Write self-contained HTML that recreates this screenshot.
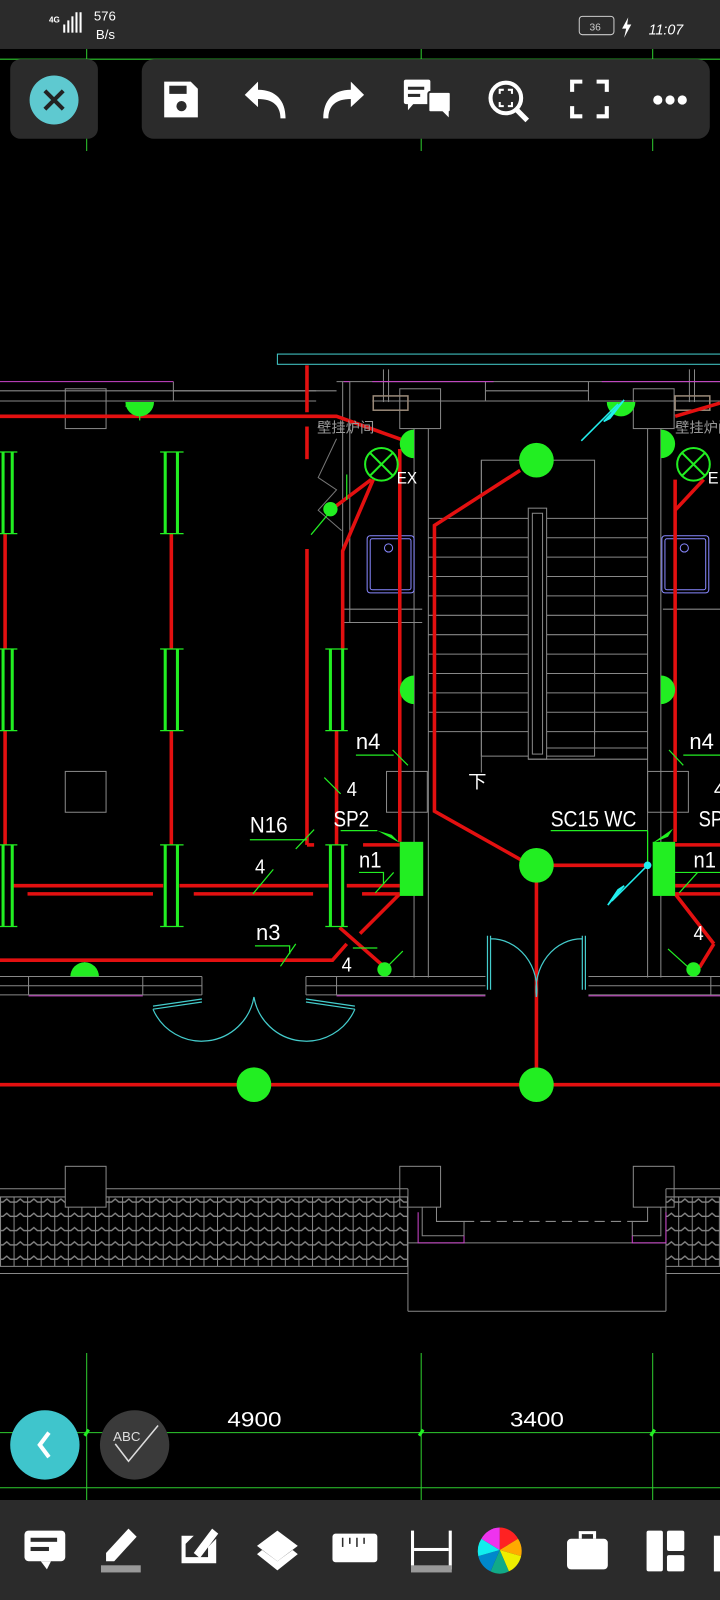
<!DOCTYPE html>
<html><head><meta charset="utf-8"><style>
html,body{margin:0;padding:0;background:#000;width:720px;height:1600px;overflow:hidden}
svg{display:block}
.t{font-family:"Liberation Sans","Noto Sans CJK SC",sans-serif;fill:#fff;font-weight:normal}
</style></head><body>
<svg width="720" height="1600" viewBox="0 0 706 1568" preserveAspectRatio="none" xmlns="http://www.w3.org/2000/svg">
<defs>
<pattern id="tile" x="0" y="1170" width="13.3" height="14" patternUnits="userSpaceOnUse">
<line x1="0.5" y1="0" x2="0.5" y2="14" stroke="#888" stroke-width="1"/>
<path d="M0,8 L3,8 L6.6,5 L10,8 L13.3,8" fill="none" stroke="#888" stroke-width="1.3"/>
</pattern>
</defs>
<rect width="706" height="1568" fill="#000"/>

<g stroke="#2ecc2e" stroke-width="1">
<line x1="0" y1="58" x2="706" y2="58"/>
<line x1="85" y1="48" x2="85" y2="148"/><line x1="413" y1="48" x2="413" y2="148"/><line x1="640" y1="48" x2="640" y2="148"/>
</g>

<rect x="272" y="347" width="440" height="10" fill="none" stroke="#4cc" stroke-width="1"/>

<g stroke="#888" stroke-width="1" fill="none">
<line x1="0" y1="383" x2="330" y2="383"/><line x1="0" y1="393" x2="170" y2="393"/>
<line x1="170" y1="374" x2="170" y2="393"/><line x1="170" y1="383" x2="310" y2="383"/>
<line x1="170" y1="393" x2="310" y2="393"/>
<line x1="330" y1="374" x2="706" y2="374"/><line x1="365" y1="393" x2="706" y2="393"/>
<line x1="476" y1="374" x2="476" y2="393"/><line x1="577" y1="374" x2="577" y2="393"/>
<line x1="476" y1="383" x2="577" y2="383"/>
<line x1="336" y1="374" x2="336" y2="610"/><line x1="343" y1="374" x2="343" y2="610"/>
<line x1="336" y1="597" x2="414" y2="597"/><line x1="336" y1="610" x2="414" y2="610"/>
<line x1="650" y1="597" x2="706" y2="597"/>
<line x1="376" y1="362" x2="376" y2="394"/><line x1="381" y1="362" x2="381" y2="394"/>
<line x1="676" y1="362" x2="676" y2="394"/><line x1="681" y1="362" x2="681" y2="394"/>
<rect x="64" y="381" width="40" height="39"/><rect x="392" y="381" width="40" height="39"/><rect x="621" y="381" width="40" height="39"/>
<line x1="406" y1="420" x2="406" y2="958"/><line x1="420" y1="420" x2="420" y2="958"/>
<line x1="635" y1="420" x2="635" y2="958"/><line x1="648" y1="420" x2="648" y2="958"/>
<rect x="64" y="756" width="40" height="40"/><rect x="379" y="756" width="40" height="40"/><rect x="635" y="756" width="40" height="40"/>
<rect x="472" y="451" width="111" height="290"/>
<line x1="420" y1="508" x2="635" y2="508"/><line x1="420" y1="527" x2="635" y2="527"/>
<line x1="420" y1="546" x2="635" y2="546"/><line x1="420" y1="565" x2="635" y2="565"/>
<line x1="420" y1="584" x2="635" y2="584"/><line x1="420" y1="603" x2="635" y2="603"/>
<line x1="420" y1="622" x2="635" y2="622"/><line x1="420" y1="641" x2="635" y2="641"/>
<line x1="420" y1="660" x2="635" y2="660"/><line x1="420" y1="679" x2="635" y2="679"/>
<line x1="420" y1="698" x2="635" y2="698"/><line x1="420" y1="717" x2="635" y2="717"/>
<line x1="472" y1="451" x2="472" y2="757"/>
<rect x="518" y="498" width="18" height="246" fill="#000"/><rect x="522" y="503" width="10" height="236"/>
<line x1="536" y1="733" x2="635" y2="733"/><line x1="518" y1="744" x2="635" y2="744"/>
<line x1="583" y1="600" x2="583" y2="720"/>
<line x1="0" y1="957" x2="198" y2="957"/><line x1="0" y1="966" x2="198" y2="966"/><line x1="0" y1="975" x2="198" y2="975"/>
<line x1="28" y1="957" x2="28" y2="975"/><line x1="140" y1="957" x2="140" y2="975"/><line x1="198" y1="957" x2="198" y2="975"/>
<line x1="300" y1="957" x2="476" y2="957"/><line x1="300" y1="966" x2="476" y2="966"/><line x1="300" y1="975" x2="476" y2="975"/>
<line x1="300" y1="957" x2="300" y2="975"/><line x1="330" y1="957" x2="330" y2="975"/>
<line x1="577" y1="957" x2="706" y2="957"/><line x1="577" y1="966" x2="706" y2="966"/><line x1="577" y1="975" x2="706" y2="975"/>
<line x1="697" y1="957" x2="697" y2="975"/>
</g>
<g stroke="#c4c" stroke-width="1">
<line x1="0" y1="374" x2="170" y2="374"/><line x1="337" y1="374" x2="343" y2="374"/>
<line x1="365" y1="374" x2="484" y2="374"/><line x1="590" y1="374" x2="706" y2="374"/>
<line x1="28" y1="976" x2="140" y2="976"/><line x1="330" y1="976" x2="476" y2="976"/><line x1="577" y1="976" x2="706" y2="976"/>
</g>

<g fill="none" stroke="#88f" stroke-width="1">
<rect x="360" y="525" width="46" height="56" rx="3"/><rect x="363" y="528" width="40" height="50" rx="2"/>
<circle cx="381" cy="537" r="4"/>
<rect x="649" y="525" width="46" height="56" rx="3"/><rect x="652" y="528" width="40" height="50" rx="2"/>
<circle cx="671" cy="537" r="4"/>
</g>
<g fill="none" stroke="#987" stroke-width="1.5"><rect x="366" y="388" width="34" height="14"/><rect x="662" y="388" width="34" height="14"/></g>
<g stroke="#777" fill="none"><path d="M330,430 L312,468 L330,480 L312,500 L335,520"/></g>

<g stroke="#e31010" stroke-width="3.5" fill="none">
<polyline points="0,408 330,408 400,433"/>
<line x1="301" y1="358" x2="301" y2="404"/><line x1="301" y1="418" x2="301" y2="450"/><line x1="301" y1="538" x2="301" y2="828"/>
<line x1="301" y1="828" x2="308" y2="828"/>
<line x1="5" y1="523" x2="5" y2="636"/><line x1="5" y1="716" x2="5" y2="828"/>
<line x1="168" y1="523" x2="168" y2="636"/><line x1="168" y1="716" x2="168" y2="828"/>
<polyline points="366,470 336,540 336,636"/><line x1="330" y1="716" x2="330" y2="828"/>
<line x1="392" y1="440" x2="392" y2="825"/>
<line x1="12" y1="868" x2="160" y2="868"/><line x1="176" y1="868" x2="322" y2="868"/><line x1="340" y1="868" x2="392" y2="868"/>
<line x1="27" y1="876" x2="150" y2="876"/><line x1="190" y1="876" x2="307" y2="876"/><line x1="355" y1="876" x2="392" y2="876"/>
<line x1="356" y1="828" x2="392" y2="828"/>
<polyline points="0,941 326,941 340,925"/>
<line x1="333" y1="909" x2="375" y2="946"/>
<line x1="392" y1="876" x2="353" y2="915"/>
<line x1="328" y1="497" x2="364" y2="470"/>
<polyline points="510,461 426,515 426,795 515,845"/>
<line x1="526" y1="848" x2="635" y2="848"/>
<line x1="526" y1="848" x2="526" y2="1063"/>
<line x1="0" y1="1063" x2="706" y2="1063"/>
<line x1="662" y1="470" x2="662" y2="825"/>
<line x1="662" y1="828" x2="706" y2="828"/><line x1="662" y1="868" x2="706" y2="868"/><line x1="662" y1="876" x2="706" y2="876"/>
<polyline points="662,500 690,470"/><line x1="662" y1="408" x2="706" y2="395"/>
<line x1="662" y1="876" x2="700" y2="925"/><line x1="700" y1="925" x2="686" y2="948"/>
</g>

<g stroke="#22ee22" stroke-width="3">
<line x1="3" y1="443" x2="3" y2="523"/><line x1="12" y1="443" x2="12" y2="523"/>
<line x1="3" y1="636" x2="3" y2="716"/><line x1="12" y1="636" x2="12" y2="716"/>
<line x1="3" y1="828" x2="3" y2="908"/><line x1="12" y1="828" x2="12" y2="908"/>
<line x1="162" y1="443" x2="162" y2="523"/><line x1="174" y1="443" x2="174" y2="523"/>
<line x1="162" y1="636" x2="162" y2="716"/><line x1="174" y1="636" x2="174" y2="716"/>
<line x1="162" y1="828" x2="162" y2="908"/><line x1="174" y1="828" x2="174" y2="908"/>
<line x1="324" y1="636" x2="324" y2="716"/><line x1="336" y1="636" x2="336" y2="716"/>
<line x1="324" y1="828" x2="324" y2="908"/><line x1="336" y1="828" x2="336" y2="908"/>
</g>
<g stroke="#22ee22" stroke-width="1.2">
<line x1="0" y1="443" x2="17" y2="443"/><line x1="0" y1="523" x2="17" y2="523"/>
<line x1="0" y1="636" x2="17" y2="636"/><line x1="0" y1="716" x2="17" y2="716"/>
<line x1="0" y1="828" x2="17" y2="828"/><line x1="0" y1="908" x2="17" y2="908"/>
<line x1="157" y1="443" x2="180" y2="443"/><line x1="157" y1="523" x2="180" y2="523"/>
<line x1="157" y1="636" x2="180" y2="636"/><line x1="157" y1="716" x2="180" y2="716"/>
<line x1="157" y1="828" x2="180" y2="828"/><line x1="157" y1="908" x2="180" y2="908"/>
<line x1="319" y1="636" x2="341" y2="636"/><line x1="319" y1="716" x2="341" y2="716"/>
<line x1="319" y1="828" x2="341" y2="828"/><line x1="319" y1="908" x2="341" y2="908"/>
<line x1="349" y1="740" x2="386" y2="740"/><line x1="385" y1="735" x2="400" y2="750"/>
<line x1="318" y1="762" x2="334" y2="778"/>
<line x1="245" y1="823" x2="301" y2="823"/><line x1="290" y1="832" x2="308" y2="813"/>
<line x1="334" y1="814" x2="370" y2="814"/>
<polyline points="352,855 376,855 376,866"/><line x1="368" y1="875" x2="386" y2="855"/>
<line x1="248" y1="876" x2="268" y2="852"/>
<polyline points="250,927 284,927 284,935"/><line x1="275" y1="947" x2="290" y2="925"/>
<line x1="346" y1="929" x2="370" y2="929"/>
<line x1="377" y1="950" x2="395" y2="932"/>
<line x1="540" y1="814" x2="635" y2="814"/><line x1="635" y1="814" x2="635" y2="848"/>
<line x1="656" y1="735" x2="670" y2="750"/><line x1="670" y1="740" x2="706" y2="740"/>
<line x1="662" y1="855" x2="706" y2="855"/><line x1="666" y1="875" x2="684" y2="855"/>
<line x1="655" y1="930" x2="675" y2="948"/>
<line x1="305" y1="524" x2="325" y2="500"/><line x1="340" y1="465" x2="340" y2="490"/>
<line x1="123" y1="398" x2="150" y2="398"/><line x1="137" y1="398" x2="137" y2="412"/>
<line x1="83" y1="943" x2="83" y2="952"/>
</g>
<g fill="#22ee22">
<path d="M123,394 A14,14 0 0 0 151,394 Z"/>
<path d="M69,957 A14,14 0 0 1 97,957 Z"/>
<path d="M595,394 A14,14 0 0 0 623,394 Z"/>
<path d="M406,421 A14,14 0 0 0 406,449 Z"/>
<path d="M406,662 A14,14 0 0 0 406,690 Z"/>
<path d="M648,421 A14,14 0 0 1 648,449 Z"/>
<path d="M648,662 A14,14 0 0 1 648,690 Z"/>
<ellipse cx="526" cy="451" rx="17" ry="17"/>
<ellipse cx="526" cy="848" rx="17" ry="17"/>
<ellipse cx="249" cy="1063" rx="17" ry="17"/>
<ellipse cx="526" cy="1063" rx="17" ry="17"/>
<ellipse cx="324" cy="499" rx="7" ry="7"/>
<circle cx="377" cy="950" r="7"/><circle cx="680" cy="950" r="7"/>
<rect x="392" y="825" width="23" height="53"/>
<rect x="640" y="825" width="22" height="53"/>
<path d="M370,814 L392,826 L384,818 Z"/><path d="M640,826 L660,812 L655,820 Z"/>
</g>
<g fill="none" stroke="#22ee22" stroke-width="2">
<circle cx="374" cy="455" r="16"/><line x1="363" y1="444" x2="385" y2="466"/><line x1="385" y1="444" x2="363" y2="466"/>
<circle cx="680" cy="455" r="16"/><line x1="669" y1="444" x2="691" y2="466"/><line x1="691" y1="444" x2="669" y2="466"/>
</g>
<g stroke="#2ee" stroke-width="1.5" fill="#2ee">
<line x1="570" y1="432" x2="606" y2="396"/><path d="M592,413 L612,392 L598,410Z"/>
<line x1="635" y1="848" x2="600" y2="883"/><path d="M596,887 L612,868 L606,872Z"/><circle cx="635" cy="848" r="3"/>
</g>
<g fill="none" stroke="#4cc" stroke-width="1.2">
<path d="M150,986 L198,979 M150,989 L198,982 M150,989 A52,52 0 0 0 249,977"/>
<path d="M300,979 L348,986 M300,982 L348,989 M348,989 A52,52 0 0 1 249,977"/>
<path d="M478,917 L478,970 M481,917 L481,970 M481,920 A45,50 0 0 1 526,977"/>
<path d="M574,917 L574,970 M571,917 L571,970 M571,920 A45,50 0 0 0 526,977"/>
</g>

<g class="t">
<text x="311" y="424" font-size="14" style="fill:#999">壁挂炉间</text>
<text x="662" y="424" font-size="14" style="fill:#999">壁挂炉间</text>
<text x="389" y="474" font-size="16" textLength="20" lengthAdjust="spacingAndGlyphs">EX</text>
<text x="694" y="474" font-size="16">E</text>
<text x="349" y="734" font-size="22" textLength="24" lengthAdjust="spacingAndGlyphs">n4</text>
<text x="340" y="780" font-size="20" textLength="10" lengthAdjust="spacingAndGlyphs">4</text>
<text x="245" y="816" font-size="22" textLength="37" lengthAdjust="spacingAndGlyphs">N16</text>
<text x="327" y="810" font-size="22" textLength="35" lengthAdjust="spacingAndGlyphs">SP2</text>
<text x="352" y="850" font-size="22" textLength="22" lengthAdjust="spacingAndGlyphs">n1</text>
<text x="250" y="856" font-size="20" textLength="10" lengthAdjust="spacingAndGlyphs">4</text>
<text x="251" y="921" font-size="22" textLength="24" lengthAdjust="spacingAndGlyphs">n3</text>
<text x="335" y="952" font-size="20" textLength="10" lengthAdjust="spacingAndGlyphs">4</text>
<text x="459" y="772" font-size="18">下</text>
<text x="540" y="810" font-size="22" textLength="84" lengthAdjust="spacingAndGlyphs">SC15 WC</text>
<text x="676" y="734" font-size="22" textLength="24" lengthAdjust="spacingAndGlyphs">n4</text>
<text x="700" y="780" font-size="20">4</text>
<text x="685" y="810" font-size="22" textLength="24" lengthAdjust="spacingAndGlyphs">SP</text>
<text x="680" y="850" font-size="22" textLength="22" lengthAdjust="spacingAndGlyphs">n1</text>
<text x="680" y="921" font-size="20" textLength="10" lengthAdjust="spacingAndGlyphs">4</text>
<text x="223" y="1398" font-size="21" textLength="53" lengthAdjust="spacingAndGlyphs">4900</text>
<text x="500" y="1398" font-size="21" textLength="53" lengthAdjust="spacingAndGlyphs">3400</text>
</g>

<rect x="0" y="1173" width="400" height="68" fill="url(#tile)"/>
<rect x="653" y="1173" width="53" height="68" fill="url(#tile)"/>
<g stroke="#888" stroke-width="1" fill="none">
<line x1="0" y1="1165" x2="400" y2="1165"/><line x1="0" y1="1173" x2="400" y2="1173"/>
<line x1="0" y1="1241" x2="400" y2="1241"/><line x1="0" y1="1248" x2="400" y2="1248"/>
<line x1="653" y1="1165" x2="706" y2="1165"/><line x1="653" y1="1173" x2="706" y2="1173"/>
<line x1="653" y1="1241" x2="706" y2="1241"/><line x1="653" y1="1248" x2="706" y2="1248"/>
<rect x="64" y="1143" width="40" height="40" fill="#000"/><rect x="392" y="1143" width="40" height="40"/><rect x="621" y="1143" width="40" height="40"/>
<line x1="400" y1="1165" x2="400" y2="1285"/><line x1="653" y1="1165" x2="653" y2="1285"/><line x1="400" y1="1285" x2="653" y2="1285"/>
<line x1="400" y1="1218" x2="653" y2="1218"/>
<polyline points="414,1183 414,1211 455,1211 455,1197 428,1197 428,1183"/>
<polyline points="648,1183 648,1211 620,1211 620,1197 635,1197 635,1183"/>
<line x1="455" y1="1197" x2="620" y2="1197" stroke-dasharray="10,6"/>
</g>
<g stroke="#c4c" stroke-width="1" fill="none">
<polyline points="410,1188 410,1218 455,1218 455,1211"/><polyline points="653,1188 653,1218 620,1218 620,1211"/>
</g>

<g stroke="#2ecc2e" stroke-width="1">
<line x1="0" y1="1404" x2="706" y2="1404"/><line x1="0" y1="1458" x2="706" y2="1458"/>
<line x1="85" y1="1326" x2="85" y2="1470"/><line x1="413" y1="1326" x2="413" y2="1470"/><line x1="640" y1="1326" x2="640" y2="1470"/>
</g>
<g stroke="#2e2" stroke-width="3"><line x1="83" y1="1407" x2="87" y2="1401"/><line x1="411" y1="1407" x2="415" y2="1401"/><line x1="638" y1="1407" x2="642" y2="1401"/></g>

<rect x="0" y="0" width="706" height="48" fill="#2b2b2b"/>
<g fill="#fff" font-family="Liberation Sans, sans-serif">
<text x="48" y="22" font-size="8" font-weight="bold">4G</text>
<rect x="62" y="24" width="2" height="8"/><rect x="66" y="20" width="2" height="12"/><rect x="70" y="16" width="2" height="16"/><rect x="74" y="12" width="2" height="20"/><rect x="78" y="12" width="2" height="20"/>
<text x="92" y="20" font-size="13">576</text><text x="94" y="38" font-size="13">B/s</text>
<text x="636" y="34" font-size="14" font-style="italic">11:07</text>
</g>
<rect x="568" y="16" width="34" height="18" rx="3" fill="none" stroke="#ccc" stroke-width="1"/>
<text x="578" y="30" font-size="10" fill="#ccc" font-family="Liberation Sans, sans-serif">36</text>
<path d="M616,17 L610,28 L614,28 L612,37 L619,24 L615,24 Z" fill="#fff"/>

<rect x="10" y="58" width="86" height="78" rx="10" fill="#2b2b2b"/>
<circle cx="53" cy="98" r="24" fill="#5ec9d0"/>
<path d="M44,89 L62,107 M62,89 L44,107" stroke="#222" stroke-width="4"/>
<rect x="139" y="58" width="557" height="78" rx="12" fill="#2b2b2b"/>
<g fill="#fff">
<path d="M161,80 h26 l7,7 v28 h-33 z"/>
<rect x="166" y="84" width="17" height="8" fill="#2b2b2b"/><circle cx="178" cy="104" r="5" fill="#2b2b2b"/>
<path d="M240,93 L253,80 L253,88 C270,88 280,98 280,116 L275,116 C275,104 268,97 253,97 L253,105 Z"/>
<path d="M357,93 L344,80 L344,88 C327,88 317,98 317,116 L322,116 C322,104 329,97 344,97 L344,105 Z"/>
<rect x="396" y="78" width="26" height="24" rx="2"/><path d="M400,100 L400,108 L407,100Z"/>
<rect x="420" y="90" width="22" height="20" rx="2" stroke="#2b2b2b" stroke-width="2"/><path d="M440,108 L440,115 L433,108Z"/>
<rect x="400" y="85" width="16" height="3" fill="#2b2b2b"/><rect x="400" y="92" width="12" height="3" fill="#2b2b2b"/>
</g>
<g fill="none" stroke="#fff" stroke-width="4">
<circle cx="496" cy="96" r="15"/><line x1="507" y1="108" x2="517" y2="118" stroke-width="5"/>
<path d="M561,90 v-10 h10 M585,80 h10 v10 M595,104 v10 h-10 M571,114 h-10 v-10"/>
</g>
<path d="M490,92 v-4 h4 M498,88 h4 v4 M502,100 v4 h-4 M494,104 h-4 v-4" fill="none" stroke="#fff" stroke-width="2"/>
<g fill="#fff"><circle cx="645" cy="98" r="4.5"/><circle cx="657" cy="98" r="4.5"/><circle cx="669" cy="98" r="4.5"/></g>

<circle cx="44" cy="1416" r="34" fill="#3fc5cc"/>
<path d="M48,1404 L39,1416 L48,1428" fill="none" stroke="#fff" stroke-width="4"/>
<circle cx="132" cy="1416" r="34" fill="#3a3a3a"/>
<text x="111" y="1412" font-size="13" fill="#ddd" font-family="Liberation Sans, sans-serif">ABC</text>
<path d="M113,1415 L126,1432 L155,1397" fill="none" stroke="#ddd" stroke-width="1.5"/>

<rect x="0" y="1470" width="706" height="98" fill="#2b2b2b"/>
<g fill="#fff">
<rect x="24" y="1500" width="40" height="30" rx="4"/><path d="M40,1530 L46,1538 L50,1530Z"/>
<rect x="30" y="1507" width="26" height="4" fill="#2b2b2b"/><rect x="30" y="1516" width="18" height="4" fill="#2b2b2b"/>
<path d="M104,1530 L104,1522 L126,1498 L134,1506 L112,1530 Z"/>
<rect x="99" y="1534" width="39" height="7" fill="#999"/>
<path d="M178,1505 h12 l-8,8 v13 h22 v-10 l8,-8 v24 h-34 z"/><path d="M190,1522 l18,-24 l6,5 l-18,24 z"/>
<path d="M272,1500 L292,1515 L272,1530 L252,1515 Z"/><path d="M252,1523 L257,1519 L272,1530 L287,1519 L292,1523 L272,1539 Z"/>
<rect x="326" y="1503" width="44" height="28" rx="3"/>
<rect x="403" y="1500" width="3" height="38"/><rect x="440" y="1500" width="3" height="38"/>
<rect x="406" y="1517" width="34" height="3"/>
<rect x="403" y="1534" width="40" height="7" fill="#999"/>
<rect x="556" y="1508" width="40" height="30" rx="4"/><path d="M569,1508 v-6 h14 v6" fill="none" stroke="#fff" stroke-width="3"/>
<rect x="634" y="1500" width="16" height="40" rx="2"/><rect x="654" y="1500" width="17" height="20" rx="2"/><rect x="654" y="1524" width="17" height="16" rx="2"/>
<rect x="700" y="1505" width="6" height="35"/>
</g>
<g stroke="#2b2b2b" stroke-width="1.5"><line x1="336" y1="1507" x2="336" y2="1516"/><line x1="343" y1="1507" x2="343" y2="1513"/><line x1="350" y1="1507" x2="350" y2="1516"/><line x1="357" y1="1507" x2="357" y2="1513"/></g>
<g>
<path d="M490,1519 L490,1497 A21,22 0 0 1 508,1508 Z" fill="#f22"/>
<path d="M490,1519 L508,1508 A21,22 0 0 1 511,1525 Z" fill="#fa0"/>
<path d="M490,1519 L511,1525 A21,22 0 0 1 499,1540 Z" fill="#ee0"/>
<path d="M490,1519 L499,1540 A21,22 0 0 1 481,1540 Z" fill="#1a8"/>
<path d="M490,1519 L481,1540 A21,22 0 0 1 469,1525 Z" fill="#08c"/>
<path d="M490,1519 L469,1525 A21,22 0 0 1 472,1508 Z" fill="#1ee"/>
<path d="M490,1519 L472,1508 A21,22 0 0 1 490,1497 Z" fill="#e3e"/>
</g>
</svg>
</body></html>
